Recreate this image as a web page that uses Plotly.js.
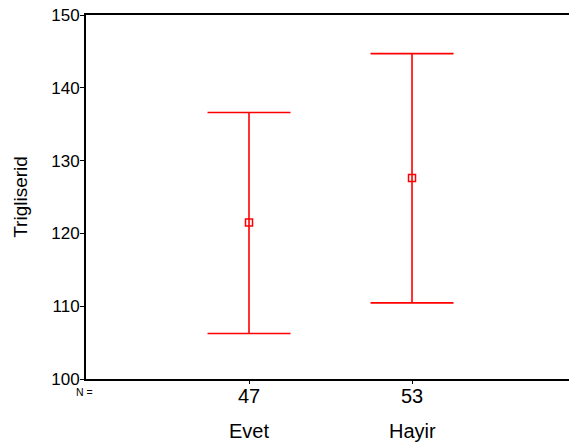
<!DOCTYPE html>
<html>
<head>
<meta charset="utf-8">
<script src="https://cdn.plot.ly/plotly-3.0.1.min.js"></script>
<style>html,body{margin:0;padding:0;background:#fff;}#chart{width:569px;height:445px;}</style>
</head>
<body>
<div id="chart"></div>
<script>
var categories = ["Evet", "Hayir"];
var nValues = ["47", "53"];
var means = [121.5, 127.6];
var lowerCI = [106.25, 110.45];
var upperCI = [136.6, 144.7];
var yTicks = [100, 110, 120, 130, 140, 150];

var positions = categories.map(function (c, i) { return i + 1; });
var errPlus = upperCI.map(function (u, i) { return u - means[i]; });
var errMinus = lowerCI.map(function (l, i) { return means[i] - l; });

var FONT = "Liberation Sans, Arial, sans-serif";

var trace = {
  x: positions,
  y: means,
  type: "scatter",
  mode: "markers",
  marker: { symbol: "square-open", size: 7, color: "#ff0000", line: { width: 1.5, color: "#ff0000" } },
  error_y: { type: "data", array: errPlus, arrayminus: errMinus, visible: true, color: "#ff0000", thickness: 1.6, width: 41.5 },
  hoverinfo: "skip",
  showlegend: false
};

var annotations = [];
categories.forEach(function (c, i) {
  annotations.push({ x: positions[i], xref: "x", y: -0.142, yref: "paper", text: c, showarrow: false,
           xanchor: "center", yanchor: "middle", font: { family: FONT, size: 20, color: "#000" } });
  annotations.push({ x: positions[i], xref: "x", y: -0.046, yref: "paper", text: nValues[i], showarrow: false,
           xanchor: "center", yanchor: "middle", font: { family: FONT, size: 20, color: "#000" } });
});
annotations.push({ x: -0.003, xref: "paper", y: -0.037, yref: "paper", text: "N =", showarrow: false,
                   xanchor: "center", yanchor: "middle", font: { family: FONT, size: 10.5, color: "#000" } });

var layout = {
  width: 569, height: 445,
  margin: { l: 86, r: 0, t: 15, b: 66, pad: 0 },
  paper_bgcolor: "#fff", plot_bgcolor: "#fff",
  font: { family: FONT, color: "#000" },
  xaxis: {
    range: [0, 2.963], tickvals: positions, showticklabels: false,
    showgrid: false, zeroline: false, showline: true, mirror: true, linecolor: "#000", linewidth: 1.8,
    ticks: "outside", ticklen: 3, tickwidth: 1, tickcolor: "#000", fixedrange: true
  },
  yaxis: {
    range: [100, 150], tickvals: yTicks,
    showgrid: false, zeroline: false, showline: true, linecolor: "#000", linewidth: 2,
    ticks: "outside", ticklen: 4, tickwidth: 1, tickcolor: "#000",
    ticklabelstandoff: -3,
    tickfont: { family: FONT, size: 17, color: "#000" },
    title: { text: "Trigliserid", font: { family: FONT, size: 19, color: "#000" }, standoff: 19 },
    automargin: false, fixedrange: true
  },
  annotations: annotations
};

Plotly.newPlot("chart", [trace], layout, { displayModeBar: false, staticPlot: true });
</script>
</body>
</html>
